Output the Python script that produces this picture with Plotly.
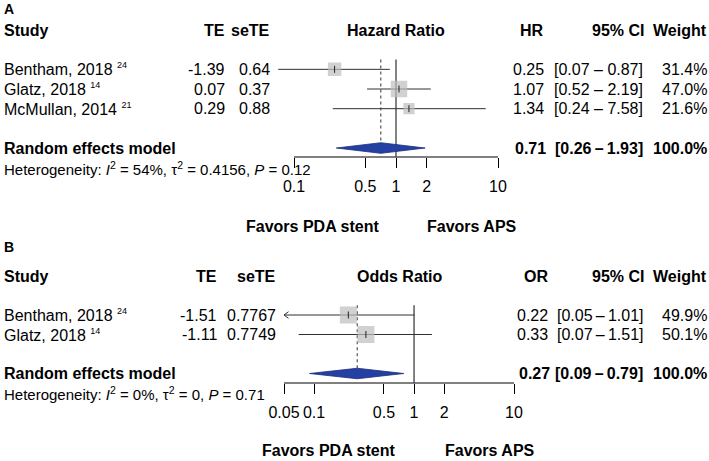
import math
import plotly.graph_objects as go

# ---------------- data ----------------
# Panel A (hazard ratio)
studies_A = ["Bentham, 2018", "Glatz, 2018", "McMullan, 2014"]
refs_A = ["24", "14", "21"]
te_A = [-1.39, 0.07, 0.29]
sete_A = [0.64, 0.37, 0.88]
est_A = [0.25, 1.07, 1.34]
lo_A = [0.07, 0.52, 0.24]
hi_A = [0.87, 2.19, 7.58]
w_A = [31.4, 47.0, 21.6]
pooled_A = [0.71, 0.26, 1.93]
het_A = ["54%", "0.4156", "0.12"]
ticks_A = [0.1, 0.5, 1, 2, 10]
ticklabels_A = ["0.1", "0.5", "1", "2", "10"]

# Panel B (odds ratio)
studies_B = ["Bentham, 2018", "Glatz, 2018"]
refs_B = ["24", "14"]
te_B = [-1.51, -1.11]
sete_B = [0.7767, 0.7749]
est_B = [0.22, 0.33]
lo_B = [0.05, 0.07]
hi_B = [1.01, 1.51]
w_B = [49.9, 50.1]
pooled_B = [0.27, 0.09, 0.79]
het_B = ["0%", "0", "0.71"]
ticks_B = [0.05, 0.1, 0.5, 1, 2, 10]
ticklabels_B = ["0.05", "0.1", "0.5", "1", "2", "10"]

# ---------------- layout helpers ----------------
W, H = 709, 461
FONT = "Liberation Sans, Arial, sans-serif"
LINE = "#303030"
SQ = "#BDBDBD"
DIAMOND = "#2440A2"

fig = go.Figure()
annotations = []


def px(x):
    return x / W


def text(x, y, s, yref, anchor="right", bold=False, size=16):
    if bold:
        s = "<b>" + s + "</b>"
    annotations.append(dict(x=px(x), xref="paper", y=y, yref=yref, text=s,
                            showarrow=False, xanchor=anchor, yanchor="middle",
                            borderpad=0,
                            font=dict(size=size, family=FONT, color="black")))


def panel(xa, ya, yref, letter, letter_row, measure, col, studies, refs, te, sete,
          se_dec, est, lo, hi, w, pooled, het, dash, xlim_min, ticks, axis_row, favors):
    rows = [2 + i for i in range(len(studies))]
    r_pool = rows[-1] + 2
    # axis baseline from first to last tick
    fig.add_trace(go.Scatter(x=[ticks[0], ticks[-1]], y=[axis_row, axis_row], mode="lines",
                             line=dict(color="black", width=1),
                             xaxis=xa, yaxis=ya, hoverinfo="skip"))
    # reference (null) line and pooled-estimate dotted line
    fig.add_trace(go.Scatter(x=[1, 1], y=[1.5, axis_row], mode="lines",
                             line=dict(color=LINE, width=1.2),
                             xaxis=xa, yaxis=ya, hoverinfo="skip"))
    fig.add_trace(go.Scatter(x=[pooled[0], pooled[0]], y=[1.5, r_pool - 0.25],
                             mode="lines", line=dict(color=LINE, width=1, dash="dot"),
                             xaxis=xa, yaxis=ya, hoverinfo="skip"))
    # CIs
    for i, r in enumerate(rows):
        fig.add_trace(go.Scatter(x=[max(lo[i], xlim_min), hi[i]], y=[r, r], mode="lines",
                                 line=dict(color=LINE, width=1),
                                 xaxis=xa, yaxis=ya, hoverinfo="skip"))
        if math.exp(te[i] - 1.96 * sete[i]) < xlim_min:
            f = 10 ** 0.045
            fig.add_trace(go.Scatter(x=[xlim_min * f, xlim_min, xlim_min * f],
                                     y=[r - 0.17, r, r + 0.17], mode="lines",
                                     line=dict(color=LINE, width=1),
                                     xaxis=xa, yaxis=ya, hoverinfo="skip"))
    # squares
    fig.add_trace(go.Scatter(x=est, y=rows, mode="markers",
                             marker=dict(symbol="square", color=SQ,
                                         size=[2.4 * math.sqrt(v) for v in w],
                                         line=dict(width=0)),
                             xaxis=xa, yaxis=ya, hoverinfo="skip"))
    fig.add_trace(go.Scatter(x=est, y=rows, mode="markers",
                             marker=dict(symbol="line-ns", size=5,
                                         line=dict(color="#222", width=1)),
                             xaxis=xa, yaxis=ya, hoverinfo="skip"))
    # diamond
    fig.add_trace(go.Scatter(x=[pooled[1], pooled[0], pooled[2], pooled[0], pooled[1]],
                             y=[r_pool, r_pool - 0.27, r_pool, r_pool + 0.27, r_pool],
                             mode="lines", fill="toself", fillcolor=DIAMOND,
                             line=dict(color="#1a2c78", width=0.8),
                             xaxis=xa, yaxis=ya, hoverinfo="skip"))

    # ---- text columns ----
    text(3, letter_row, letter, yref, anchor="left", bold=True, size=14)
    text(3, 0, "Study", yref, anchor="left", bold=True)
    text(col["te"], 0, "TE", yref, bold=True)
    text(col["se"], 0, "seTE", yref, bold=True)
    text(col["mid"], 0, measure[0], yref, anchor="center", bold=True)
    text(col["est"], 0, measure[1], yref, bold=True)
    text(645, 0, "95% CI", yref, bold=True)
    text(708, 0, "Weight", yref, bold=True)
    for i, r in enumerate(rows):
        text(3, r, studies[i] + ' <sup><span style="font-size:9px">' + refs[i]
             + "</span></sup>", yref, anchor="left")
        text(col["te"], r, f"{te[i]:.2f}", yref)
        text(col["se"], r, f"{sete[i]:.{se_dec}f}", yref)
        text(col["est"], r, f"{est[i]:.2f}", yref)
        text(644, r, f"[{lo[i]:.2f}{dash}{hi[i]:.2f}]", yref)
        text(708, r, f"{w[i]:.1f}%", yref)
    text(3, r_pool, "Random effects model", yref, anchor="left", bold=True)
    text(col["est"] + 2, r_pool, f"{pooled[0]:.2f}", yref, bold=True)
    text(644, r_pool, f"[{pooled[1]:.2f}\u2009\u2013\u2009{pooled[2]:.2f}]", yref, bold=True)
    text(708, r_pool, "100.0%", yref, bold=True)
    text(3, r_pool + 1.05,
         f"Heterogeneity: <i>I</i><sup>2</sup> = {het[0]}, \u03c4<sup>2</sup> = {het[1]}, "
         f"<i>P</i> = {het[2]}", yref, anchor="left", size=15)
    text(favors[0], favors[2], "Favors PDA stent", yref, anchor="center", bold=True)
    text(favors[1], favors[2], "Favors APS", yref, anchor="center", bold=True)


# Panel A: row r sits at pixel 30 + 19.67*r ; panel B: 276 + 19.5*r
sA, oA = 19.67, 30
sB, oB = 19.5, 276
xminA = 0.05
panel("x", "y", "y", "A", -1.05, ["Hazard Ratio", "HR"],
      dict(te=226, se=271, mid=396, est=545), studies_A, refs_A, te_A, sete_A, 2,
      est_A, lo_A, hi_A, w_A, pooled_A, het_A, " \u2013 ", xminA, ticks_A,
      (157 - oA) / sA, (312, 472, 10.0))
panel("x2", "y2", "y2", "B", -1.5, ["Odds Ratio", "OR"],
      dict(te=218, se=277, mid=400, est=549), studies_B, refs_B, te_B, sete_B, 4,
      est_B, lo_B, hi_B, w_B, pooled_B, het_B, "\u2009\u2013\u2009", ticks_B[0], ticks_B,
      (383 - oB) / sB, (328, 490, 8.95))

axis_common = dict(type="log", showline=False,
                   ticks="outside", ticklen=10, tickwidth=1, tickcolor="black",
                   showgrid=False, zeroline=False, anchor="free",
                   tickfont=dict(size=16, family=FONT, color="black"),
                   ticklabelstandoff=5)

# panel A: 0.1 at px 294, 10 at px 498 (102 px per decade)
decA = 102.0
loA = math.log10(xminA)
fig.update_layout(
    width=W, height=H, margin=dict(l=0, r=0, t=0, b=0, autoexpand=False),
    paper_bgcolor="white", plot_bgcolor="rgba(0,0,0,0)", showlegend=False,
    font=dict(family=FONT, size=16, color="black"),
    xaxis=dict(axis_common, range=[loA, 1],
               domain=[(294 + (loA + 1) * decA) / W, 498 / W],
               position=1 - 157 / H, tickvals=ticks_A, ticktext=ticklabels_A),
    xaxis2=dict(axis_common, range=[math.log10(0.05), 1], domain=[284 / W, 514 / W],
                position=1 - 383 / H, tickvals=ticks_B, ticktext=ticklabels_B),
    yaxis=dict(domain=[0, 1], range=[(H - oA) / sA, -oA / sA], visible=False),
    yaxis2=dict(domain=[0, 1], range=[(H - oB) / sB, -oB / sB], visible=False,
                anchor="x2"),
    annotations=annotations,
)

fig.write_html("out.html", config={"displayModeBar": False},
               post_script="document.body.style.margin='0';")
